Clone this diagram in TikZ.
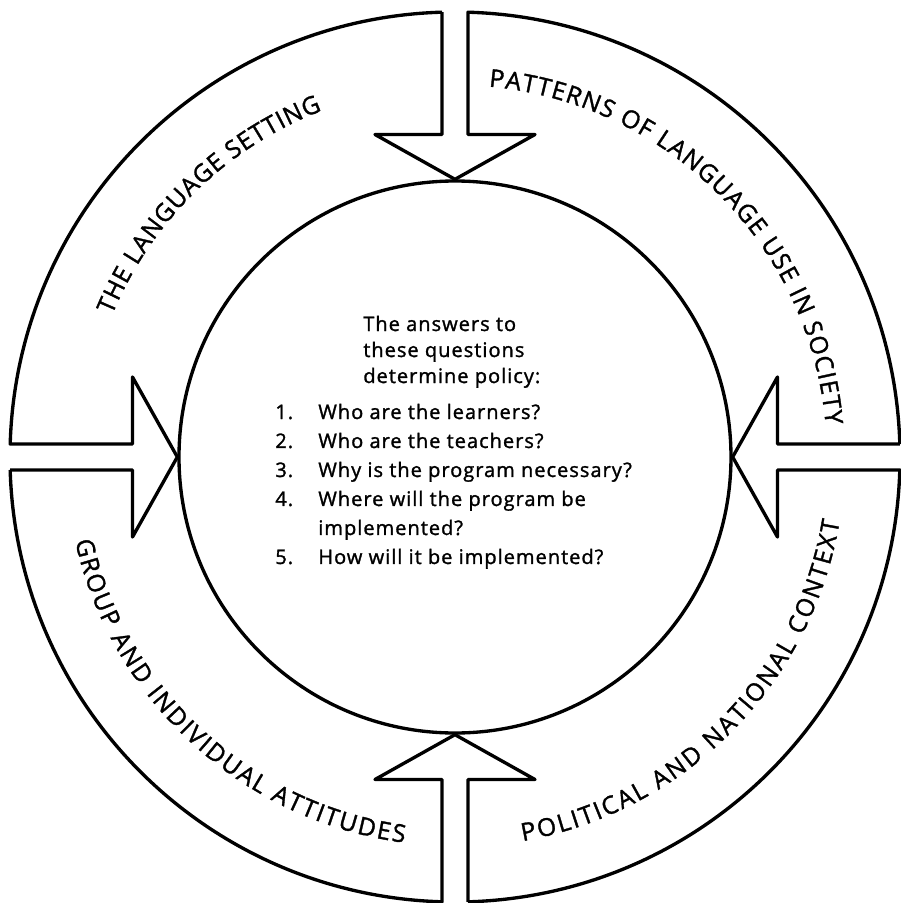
\documentclass[tikz,border=0pt]{standalone}
\usepackage{fontspec}
\setmainfont{Open Sans}
\newfontfamily\ringface{Open Sans}[FakeBold=1.4]
\newfontfamily\listface{Open Sans}[FakeBold=1.4, LetterSpace=5]
\usetikzlibrary{decorations.text}
\newcommand{\ringfont}{\ringface\fontsize{14}{14}\selectfont}
\newcommand{\headfont}{\listface\fontsize{11.4}{14.8}\selectfont}
\newcommand{\listfont}{\listface\fontsize{11.4}{16.5}\selectfont}
\tikzset{ring/.style={line width=1.9pt, line join=round},
  ringtext/.style={decorate, decoration={text along path, text align={fit to path}, text={|\ringfont|#1}}},
  block/.style={anchor=base west, inner sep=0pt}}

\begin{document}
\begin{tikzpicture}
  \useasboundingbox (-9.1,-8.92) rectangle (8.9,9.14);
  \node (C) [circle, draw, ring, minimum size=11.04cm, inner sep=0pt] at (0,0) {};
  \foreach \r/\a in {0/north, -90/east, -180/south, -270/west}
    \draw[ring, rotate=\r] (-0.26,8.896) -- (-0.26,6.45) -- (-1.6,6.45) -- (C.\a)
      -- (1.6,6.45) -- (0.26,6.45) -- (0.26,8.896) arc[start angle=88.33, end angle=1.67, radius=8.9];
  \path[ringtext={THE LANGUAGE SETTING}] (157.5:7.42) arc[start angle=157.5, end angle=111, radius=7.42];
  \path[ringtext={PATTERNS OF LANGUAGE USE IN SOCIETY}] (84.8:7.44) arc[start angle=84.8, end angle=5, radius=7.44];
  \path[ringtext={GROUP AND INDIVIDUAL ATTITUDES}] (192.5:7.78) arc[start angle=192.5, end angle=262.5, radius=7.78];
  \path[ringtext={POLITICAL AND NATIONAL CONTEXT}] (280:7.8) arc[start angle=280, end angle=350.5, radius=7.8];
  \node (H) [block, font=\headfont] at (-1.84,2.52)
    {\begin{tabular}[t]{@{}l@{}}The answers to\\these questions\\determine policy:\end{tabular}};
  \node (L) [block, font=\listfont] at (-3.6,0.76)
    {\begin{tabular}[t]{@{}p{0.86cm}@{}l@{}}
      1. & Who are the learners?\\
      2. & Who are the teachers?\\
      3. & Why is the program necessary?\\
      4. & Where will the program be\\
         & implemented?\\
      5. & How will it be implemented?
    \end{tabular}};
\end{tikzpicture}
\end{document}
